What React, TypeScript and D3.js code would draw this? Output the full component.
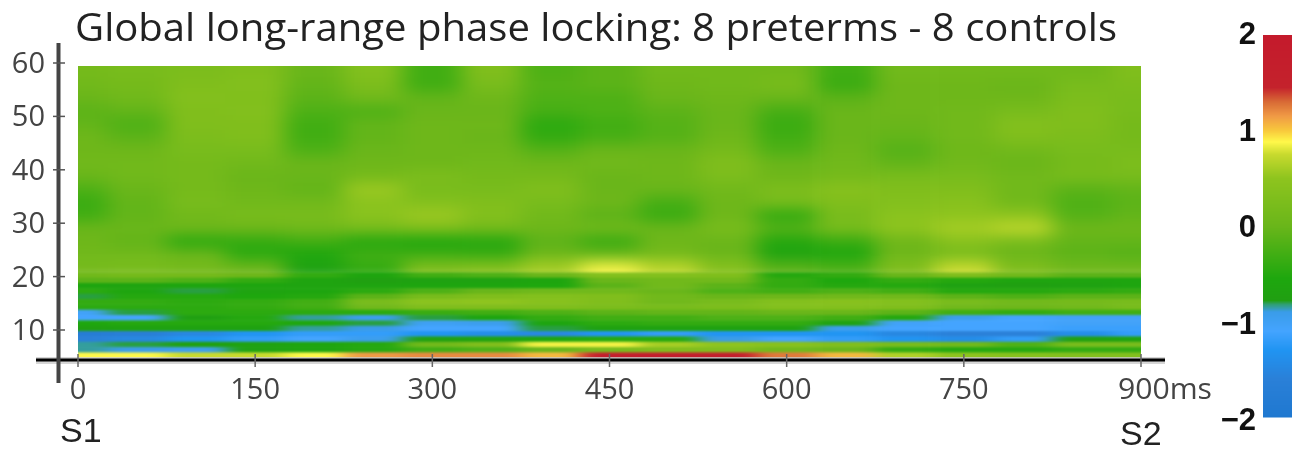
import * as d3 from "d3";

const WIDTH = 1300;
const HEIGHT = 451;

const TITLE = "Global long-range phase locking: 8 preterms - 8 controls";
const xTicks = [0, 150, 300, 450, 600, 750, 900];
const yTicks = [10, 20, 30, 40, 50, 60];
const barTicks = [2, 1, 0, -1, -2];

// time of each column (ms)
const times = [0, 50, 100, 150, 200, 250, 300, 350, 400, 450, 500, 550, 600, 650, 700, 750, 800, 850, 900];

// coarse part of the map, 60 down to 21 Hz
const upperFreqs = [58.3, 55.9, 53.4, 51, 48.6, 46.1, 43.7, 41.2, 38.8, 36.4, 33.9, 31.5, 29, 26.6, 24.1, 21.7];
const upperRows = [
  [.15, .2, .25, .3, 0, .35, -.3, .3, -.2, -.1, .1, .1, .1, -.3, .1, .1, .1, .1, .3],
  [.1, .15, .3, .35, -.05, .25, -.3, .2, -.15, -.1, .05, .1, .2, -.35, .05, .05, 0, .2, .25],
  [0, .1, .35, .3, -.1, .1, -.05, .05, -.2, -.2, 0, .05, 0, -.1, .05, .05, .05, .25, .2],
  [-.1, -.05, .3, .35, -.2, -.2, 0, 0, -.25, -.2, -.1, 0, -.25, 0, .05, .1, .2, .3, .2],
  [-.05, -.2, .3, .3, -.3, -.05, .05, .05, -.45, -.3, -.15, 0, -.35, 0, 0, .1, .35, .3, .15],
  [.05, -.1, .25, .3, -.3, -.05, .05, 0, -.4, -.25, -.15, .05, -.3, 0, -.05, .1, .3, .25, .15],
  [.05, .05, .2, .2, -.2, 0, .05, .05, -.15, 0, 0, .15, -.2, .05, -.15, .05, .1, .2, .2],
  [.1, .1, .15, .1, 0, .05, .05, .1, .05, .1, .05, .3, 0, .1, -.05, .1, 0, .15, .25],
  [0, .1, .15, 0, 0, .15, .25, .15, .15, 0, .05, .25, .05, .15, .2, .2, .1, .2, .2],
  [-.2, 0, .15, .05, -.05, .55, .2, .2, .3, 0, 0, .1, .25, .4, .3, .3, .1, -.1, -.05],
  [-.35, -.05, .2, .1, .1, .45, .35, .3, .2, .05, -.25, .05, .2, .3, .35, .4, .1, -.2, -.1],
  [-.3, -.05, .1, .2, .2, .45, .55, .35, .1, -.1, -.35, .05, -.4, .2, .45, .5, .5, -.15, -.05],
  [0, 0, .05, .05, .1, .2, .3, .15, .05, .1, 0, .2, -.15, .2, .5, .6, .7, .05, .05],
  [.05, -.05, -.45, -.4, -.3, -.5, -.55, -.5, -.1, -.35, .05, 0, -.5, -.35, .05, .4, .2, -.05, -.05],
  [.1, .1, 0, -.45, -.55, -.3, -.3, -.35, .05, 0, .15, 0, -.65, -.55, .05, .2, 0, -.1, -.15],
  [.15, .2, .15, .05, -.7, -.4, .3, .4, .6, .85, .7, .4, -.1, -.2, .3, .75, .3, .1, .1],
];

// fine part of the map, one row per Hz
const lowerFreqs = [20.3, 19.3, 18.3, 17.3, 16.3, 15.3, 14.3, 13.3, 12.3, 11.3, 10.3, 9.3, 8.3, 7.3, 6.3, 5.3];
const lowerRows = [
  [.1, .15, .15, .05, -.4, -.6, -.3, -.2, 0, .35, .35, .3, -.5, -.4, 0, .3, .1, -.1, -.1],
  [-.1, -.1, -.2, -.4, -.65, -.75, -.7, -.7, -.6, 0, .1, .1, -.4, -.55, -.4, -.5, -.65, -.65, -.6],
  [-.6, -.65, -.6, -.6, -.65, -.65, -.6, -.6, -.55, -.1, .1, -.1, -.4, -.5, -.5, -.7, -.75, -.7, -.6],
  [-.45, -.6, -.8, -.65, -.6, -.45, -.2, 0, .1, .1, 0, -.2, -.3, -.2, -.3, -.5, -.5, -.45, -.4],
  [-.8, -.5, -.5, -.55, -.5, -.1, .2, .3, .35, .3, .1, 0, .05, .1, .1, -.1, -.2, -.1, -.1],
  [-.4, -.4, -.45, -.4, -.3, .2, .45, .5, .4, .3, .1, .2, .35, .4, .35, .2, .1, .15, .2],
  [-.45, -.45, -.45, -.4, -.3, .1, .3, .3, .3, .25, .2, .25, .35, .35, .3, .1, .05, .1, .2],
  [-1.05, -.8, -.45, -.45, -.45, -.45, -.35, -.3, -.2, -.1, -.05, -.05, 0, 0, -.1, -.3, -.4, -.3, -.3],
  [-1.1, -1.1, -.75, -.5, -.85, -.95, -.8, -.6, -.4, -.3, -.3, -.2, -.2, -.3, -.5, -.95, -1.1, -1.05, -1.05],
  [-.55, -.5, -.5, -.5, -.55, -.8, -1, -.95, -.6, -.45, -.4, -.4, -.4, -.7, -1.05, -1.1, -1.1, -1.05, -1.05],
  [-.75, -.7, -.7, -.7, -.85, -.9, -1.1, -1.1, -.8, -.7, -.7, -.7, -.7, -.95, -1.1, -1.1, -1.1, -1.15, -1.15],
  [-1.8, -1.7, -1.5, -1.3, -1.2, -1.2, -1.3, -1.4, -1.5, -1.3, -1.2, -1.3, -1.3, -1.3, -1.5, -1.6, -1.6, -1.4, -1.2],
  [-1.6, -1.5, -1.3, -1.2, -1.1, -.95, -.75, -.7, -.6, -.5, -.5, -.9, -1.1, -1.2, -1.3, -1.4, -1.2, -.75, -.7],
  [-.85, -.8, -.75, -.7, -.6, -.5, .1, .3, .85, .85, .6, .5, .4, .3, .2, .1, -.2, .2, .2],
  [-.85, -.9, -.95, -.7, -.6, -.5, -.3, -.2, 0, .2, .3, .3, .1, 0, -.4, -.5, -.5, -.4, -.4],
  [.88, .88, .75, .75, .88, 1.15, 1.2, 1.2, 1.05, 1.7, 1.8, 1.7, 1.25, 1.05, .65, .5, .4, .35, .35],
];

// colour ramp
const rampValues = [2, 1.45, 1.3, 1.15, 1, 0.88, 0.75, 0.5, 0, -0.55, -0.78, -0.82, -0.9, -1.1, -1.3, -1.6, -2];
const rampColors = ["#c41a2c", "#c4222c", "#d86a35", "#f09a45", "#f8c83c", "#fff84a", "#c8da2e", "#8ec41e", "#6ab61a", "#1ea70e", "#209f12", "#2f9f70", "#3a9ce8", "#44a4ff", "#2094f2", "#2a80d8", "#1f78d0"];

const color = d3.scaleLinear<string>().domain(rampValues).range(rampColors).interpolate(d3.interpolateRgb);

const xScale = d3.scaleLinear().domain([0, 900]).range([78, 1141]);
const yScale = d3.scaleLinear().domain([60, 10]).range([63, 330]);
const barScale = d3.scaleLinear().domain([2, -2]).range([35, 417]);
const barLabelY = d3.scaleLinear().domain([2, -2]).range([44, 430]);

const PLOT = { left: xScale(0), right: xScale(900), top: 66, bottom: 358 };
const AXIS_Y = 360;
const AXIS_X = 58.5;

const SANS = "'Open Sans', 'Noto Sans', sans-serif";
const ARIAL = "'Liberation Sans', Arial, sans-serif";

// edges halfway between the row centres, outer ones pushed past the clip so the blur has no fade
const rowEdges = (freqs: number[], topPad: number, bottomPad: number) => {
  const ys = freqs.map((f) => yScale(f));
  return ys.map((y, i) => ({
    y0: i === 0 ? y - topPad : (ys[i - 1] + y) / 2,
    y1: i === ys.length - 1 ? y + bottomPad : (ys[i + 1] + y) / 2,
  }));
};

const Cells = ({ freqs, rows, topPad, bottomPad }: { freqs: number[]; rows: number[][]; topPad: number; bottomPad: number }) => {
  const edges = rowEdges(freqs, topPad, bottomPad);
  const step = xScale(50) - xScale(0);
  return (
    <>
      {rows.map((row, r) =>
        row.map((v, c) => {
          const x0 = c === 0 ? xScale(times[c]) - 80 : xScale(times[c]) - step / 2;
          const x1 = c === times.length - 1 ? xScale(times[c]) + 80 : xScale(times[c]) + step / 2;
          return (
            <rect
              key={`${r}-${c}`}
              x={x0}
              y={edges[r].y0}
              width={x1 - x0 + 0.5}
              height={edges[r].y1 - edges[r].y0 + 0.5}
              fill={color(v)}
            />
          );
        })
      )}
    </>
  );
};

export default function App() {
  const barSteps = d3.range(35, 417, 1).map((y) => barScale.invert(y + 0.5));

  return (
    <svg width={WIDTH} height={HEIGHT} style={{ position: "absolute", left: 0, top: 0, background: "#fff" }}>
      <defs>
        <clipPath id="plot-clip">
          <rect x={PLOT.left} y={PLOT.top} width={PLOT.right - PLOT.left} height={PLOT.bottom - PLOT.top} />
        </clipPath>
        <filter id="blur-upper" filterUnits="userSpaceOnUse" x={-100} y={0} width={1500} height={451} colorInterpolationFilters="sRGB">
          <feGaussianBlur stdDeviation="11 6.5" />
        </filter>
        <filter id="blur-lower" filterUnits="userSpaceOnUse" x={-100} y={0} width={1500} height={451} colorInterpolationFilters="sRGB">
          <feGaussianBlur stdDeviation="10 0.9" />
        </filter>
        <filter id="soft" filterUnits="userSpaceOnUse" x={0} y={0} width={1300} height={451} colorInterpolationFilters="sRGB">
          <feGaussianBlur stdDeviation="0.45" />
        </filter>
      </defs>

      {/* heat map */}
      <g clipPath="url(#plot-clip)">
        <g filter="url(#blur-upper)">
          <Cells freqs={upperFreqs} rows={upperRows} topPad={40} bottomPad={12} />
        </g>
        <g filter="url(#blur-lower)">
          <Cells freqs={lowerFreqs} rows={lowerRows} topPad={2.6} bottomPad={20} />
        </g>
      </g>

      <g filter="url(#soft)">
        {/* axes */}
        <rect x={36} y={AXIS_Y - 3} width={1129} height={7} fill="#ccc" opacity={0.8} />
        <line x1={36} x2={1165} y1={AXIS_Y} y2={AXIS_Y} stroke="#000" strokeWidth={3} />
        <line x1={AXIS_X} x2={AXIS_X} y1={43} y2={383} stroke="#444" strokeWidth={4} />
        {xTicks.map((t) => (
          <line key={t} x1={xScale(t)} x2={xScale(t)} y1={354} y2={367} stroke="#666" strokeWidth={1.5} />
        ))}
        {yTicks.map((t) => (
          <line key={t} x1={53} x2={65} y1={yScale(t)} y2={yScale(t)} stroke="#555" strokeWidth={1.5} />
        ))}

        {/* tick labels */}
        {yTicks.map((t) => (
          <text key={t} x={45} y={yScale(t) + 10} textAnchor="end" fontFamily={SANS} fontSize={29} fill="#444">
            {t}
          </text>
        ))}
        {xTicks.map((t) =>
          t === 900 ? (
            <text key={t} x={xScale(t) - 23} y={399} fontFamily={SANS} fontSize={29} fill="#444" textLength={94} lengthAdjust="spacingAndGlyphs">
              900ms
            </text>
          ) : (
            <text key={t} x={xScale(t)} y={399} textAnchor="middle" fontFamily={SANS} fontSize={29} fill="#444">
              {t}
            </text>
          )
        )}
        <text x={60} y={442} fontFamily={ARIAL} fontSize={34} fill="#222">S1</text>
        <text x={1120} y={445} fontFamily={ARIAL} fontSize={34} fill="#222">S2</text>

        <text x={75} y={41} fontFamily={SANS} fontSize={39} fill="#222" textLength={1042} lengthAdjust="spacingAndGlyphs">
          {TITLE}
        </text>

        {/* colour bar labels */}
        {barTicks.map((t) => (
          <text key={t} x={1256} y={barLabelY(t)} textAnchor="end" fontFamily={ARIAL} fontSize={31} fontWeight="bold" fill="#111">
            {t < 0 ? `\u2212${Math.abs(t)}` : t}
          </text>
        ))}
      </g>

      {/* colour bar */}
      <g>
        {barSteps.map((v) => (
          <rect key={v} x={1263} y={barScale(v) - 0.5} width={29} height={1.5} fill={color(v)} />
        ))}
      </g>
    </svg>
  );
}
